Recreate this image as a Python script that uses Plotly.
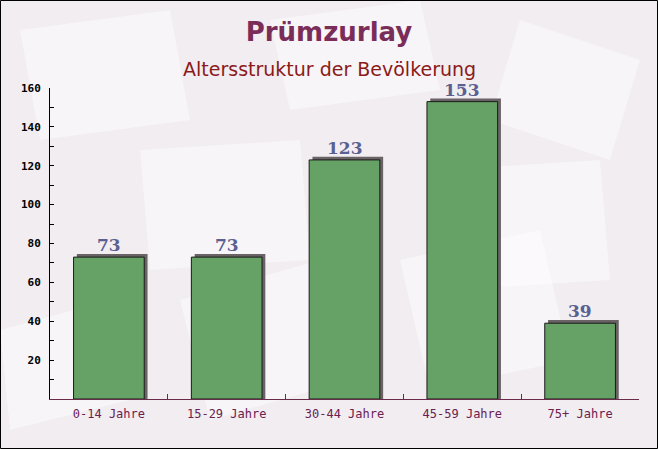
import plotly.graph_objects as go

categories = ["0-14 Jahre", "15-29 Jahre", "30-44 Jahre", "45-59 Jahre", "75+ Jahre"]
values = [73, 73, 123, 153, 39]
y_tick_vals = [20, 40, 60, 80, 100, 120, 140, 160]

W, H = 658, 449
ML, MR, MT, MB = 50, 19, 88, 50
PW, PH = W - ML - MR, H - MT - MB

def px(x):
    return (x - ML) / PW

def py(y):
    return (H - MB - y) / PH

fig = go.Figure()

# shadow bars
fig.add_trace(go.Bar(
    x=categories, y=[v + 1.6 for v in values], width=0.6, offset=-0.3 + 0.028,
    marker=dict(color="#6a6366", line=dict(width=0)), hoverinfo="skip", showlegend=False,
))
# main bars
fig.add_trace(go.Bar(
    x=categories, y=values, width=0.6, offset=-0.3,
    marker=dict(color="#66a166", line=dict(width=1, color="#1a1a1a")),
    showlegend=False,
))

for c, v in zip(categories, values):
    fig.add_annotation(x=c, y=v, text=str(v), showarrow=False, yanchor="bottom", yshift=0,
                       font=dict(family="DejaVu Serif", size=17, color="#5a6090", weight="bold"))

# decorative envelope-like background shapes
env = [
    [(20, 30), (170, 10), (190, 120), (40, 140)],
    [(270, 20), (420, 0), (440, 90), (290, 110)],
    [(520, 20), (640, 60), (610, 160), (490, 120)],
    [(140, 150), (300, 140), (310, 260), (150, 270)],
    [(440, 170), (600, 160), (610, 280), (450, 290)],
    [(180, 300), (320, 260), (350, 380), (210, 420)],
    [(400, 260), (540, 230), (570, 360), (430, 390)],
    [(0, 330), (110, 300), (130, 400), (10, 430)],
]
for poly in env:
    path = "M " + " L ".join(f"{px(a)},{py(b)}" for a, b in poly) + " Z"
    fig.add_shape(type="path", path=path, xref="paper", yref="paper", layer="below",
                  fillcolor="rgba(255,255,255,0.45)", line=dict(width=0))

# outer frame
fig.add_shape(type="rect", xref="paper", yref="paper",
              x0=px(0.5), x1=px(W - 0.5), y0=py(H - 0.5), y1=py(0.5),
              line=dict(color="#000000", width=1), layer="above")

fig.update_layout(
    width=W, height=H,
    margin=dict(l=ML, r=MR, t=MT, b=MB),
    paper_bgcolor="#f1edf0", plot_bgcolor="rgba(0,0,0,0)",
    barmode="overlay",
    title=dict(text="<b>Prümzurlay</b>", x=0.5, xanchor="center", y=1 - 32 / H, yanchor="middle",
               font=dict(family="DejaVu Sans", size=26, color="#7b2d5a")),
    annotations=list(fig.layout.annotations) + [
        dict(text="Altersstruktur der Bevölkerung", xref="paper", yref="paper",
             x=px(329), y=py(69), xanchor="center", yanchor="middle", showarrow=False,
             font=dict(family="DejaVu Sans", size=19, color="#8b1a1a"))
    ],
    xaxis=dict(showline=True, linecolor="#6b2a4a", linewidth=1, ticks="inside", ticklen=5,
               tickcolor="#6b2a4a", tickson="boundaries", ticklabelstandoff=4,
               tickfont=dict(family="DejaVu Sans Mono", size=12, color="#6b2050"),
               showgrid=False, range=[-0.5, 4.5]),
    yaxis=dict(range=[0, 160], showline=True, linecolor="#000000", linewidth=1,
               tickvals=y_tick_vals, ticks="inside", ticklen=4, tickcolor="#000000",
               ticklabelstandoff=6,
               minor=dict(dtick=10, tick0=0, ticks="inside", ticklen=4, tickcolor="#000000"),
               tickfont=dict(family="DejaVu Sans Mono", size=11, color="#000000", weight="bold"),
               showgrid=False, zeroline=False),
)

fig.write_html("out.html")
